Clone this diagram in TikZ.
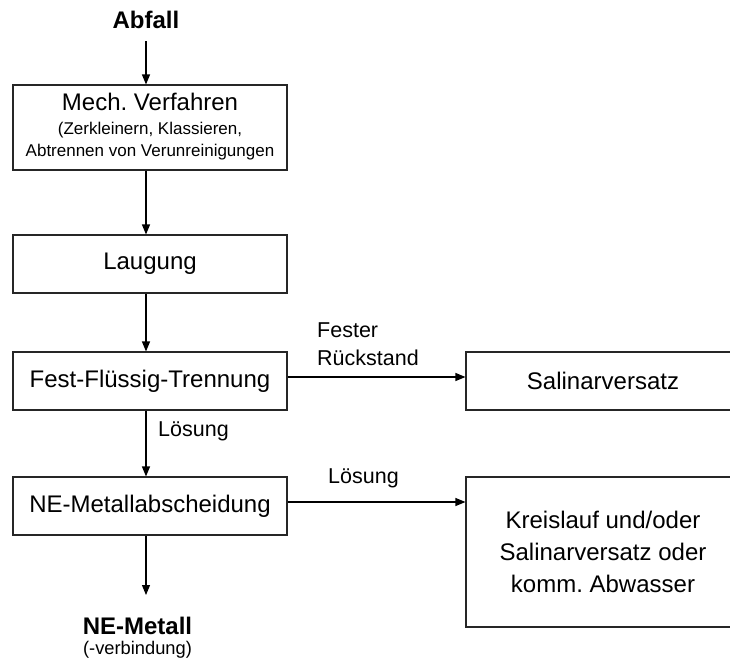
\documentclass[tikz,border=0pt]{standalone}
\usepackage{fontspec}
\setmainfont{Liberation Sans}
\usetikzlibrary{arrows.meta}
\frenchspacing
\begin{document}
\begin{tikzpicture}[x=1pt,y=-1pt,
  box/.style={draw=black!85, line width=1.1pt, minimum width=274pt, inner sep=0pt, align=center, font=\fontsize{24}{28}\selectfont},
  flow/.style={draw=black, line width=1.1pt, -{Triangle[length=10pt,width=8pt]}},
  lbl/.style={inner sep=0pt, anchor=west, align=left, font=\fontsize{21.5}{28}\selectfont},
  big/.style={inner sep=0pt, font=\fontsize{24}{28}\selectfont\bfseries}]
\useasboundingbox (0,0) rectangle (730,664);
\node[big] (abfall) at (146,20) {Abfall};
\node[box, minimum height=85pt] (mech) at (150,127.5) {};
\node[inner sep=0pt, font=\fontsize{24}{28}\selectfont] (mecht) at (150,102) {Mech. Verfahren};
\node[inner sep=0pt, align=center, font=\fontsize{17}{21.5}\selectfont] (mechs) at (150,141) {(Zerkleinern, Klassieren,\\Abtrennen von Verunreinigungen};
\node[box, minimum height=58pt] (laug) at (150,264) {Laugung};
\node[box, minimum height=58pt] (fest) at (150,381) {Fest-Flüssig-Trennung};
\node[box, minimum height=58pt] (ne) at (150,506) {NE-Metallabscheidung};
\node[box, minimum height=58pt] (sal) at (603,381) {Salinarversatz};
\node[box, minimum height=150pt, font=\fontsize{24}{32}\selectfont] (kreis) at (603,552) {Kreislauf und/oder\\Salinarversatz oder\\komm. Abwasser};
\node[big] (nem) at (137.5,626) {NE-Metall};
\node[inner sep=0pt, font=\fontsize{18.3}{22}\selectfont] (nev) at (137.5,650) {(-verbindung)};
\coordinate (ax) at (146,0);
\coordinate (neend) at (146,595);
\draw[flow] (abfall.south -| ax) ++(0,12) -- (mech.north -| ax);
\draw[flow] (mech.south -| ax) -- (laug.north -| ax);
\draw[flow] (laug.south -| ax) -- (fest.north -| ax);
\draw[flow] (fest.south -| ax) -- (ne.north -| ax);
\draw[flow] (ne.south -| ax) -- (neend);
\draw[flow] (fest.east |- 0,377) -- (sal.west |- 0,377);
\draw[flow] (ne.east |- 0,502) -- (kreis.west |- 0,502);
\node[lbl] (lfest) at (317,344) {Fester\\Rückstand};
\node[lbl] (lloes1) at (158,431) {Lösung};
\node[lbl] (lloes2) at (328,478) {Lösung};
\end{tikzpicture}
\end{document}
